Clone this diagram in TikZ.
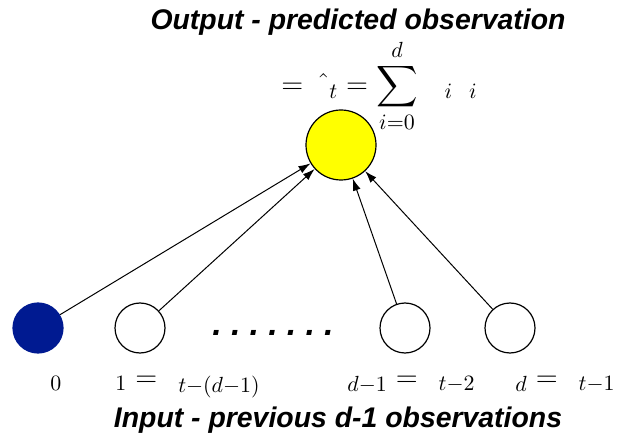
\documentclass[tikz,border=0pt]{standalone}
\usepackage[no-math]{fontspec}
\usepackage{amsmath}
\newfontfamily\headfont{Liberation Sans}
\usetikzlibrary{arrows.meta}
\definecolor{inblue}{RGB}{0,26,145}
\definecolor{outyellow}{RGB}{255,255,0}
\DeclareMathSizes{15}{15}{11.2}{8}
% room left by symbols that the font does not print
\newcommand{\gapbox}[1]{\makebox[#1]{}}

\begin{document}
\begin{tikzpicture}[x=0.5pt, y=-0.5pt, every node/.style={font=\fontsize{15}{18}\selectfont},
  unit/.style={circle, draw, line width=0.6pt, minimum size=25pt, inner sep=0pt},
  head/.style={font=\headfont\fontsize{14.2}{17}\selectfont\bfseries\itshape},
  eqn/.style={anchor=base west, inner sep=0pt},
  link/.style={-{Latex[length=6pt,width=4pt]}, line width=0.5pt}]
\useasboundingbox (0,0) rectangle (635,442);
% Output unit
\node[head] (outtitle) at (358,22) {Output - predicted observation};
\node[eqn] (formula) at (281,94) {$\displaystyle = \hspace{3pt}\hat{\gapbox{6pt}}_t = \sum_{i=0}^{d} \gapbox{11pt}_i \gapbox{8pt}_i$};
\node[unit, fill=outyellow, minimum size=35pt] (out) at (341,145) {};
% Input units
\node[unit, fill=inblue, draw=inblue] (x0) at (38,328) {};
\node[unit] (x1) at (140,328) {};
\node[head, anchor=base, font=\headfont\fontsize{17}{20}\selectfont\bfseries\itshape\addfontfeature{LetterSpace=27}] (gap) at (273,335.5) {.......};
\node[unit] (xd1) at (405,328) {};
\node[unit] (xd) at (510,328) {};
\node[eqn] (l0) at (32,386) {$\gapbox{9pt}_0$};
\node[eqn] (l1) at (97,386) {$\gapbox{9pt}_1 = \gapbox{6.5pt}_{t-(d-1)}$};
\node[eqn] (ld1) at (329,386) {$\gapbox{9pt}_{d-1} = \gapbox{6.5pt}_{t-2}$};
\node[eqn] (ld) at (497,386) {$\gapbox{9pt}_d = \gapbox{6.5pt}_{t-1}$};
\node[head] (intitle) at (338,420) {Input - previous d-1 observations};
% Connections
\draw[link] (x0) -- (out);
\draw[link] (x1) -- (out);
\draw[link] (xd1) -- (out);
\draw[link] (xd) -- (out);
\end{tikzpicture}
\end{document}
